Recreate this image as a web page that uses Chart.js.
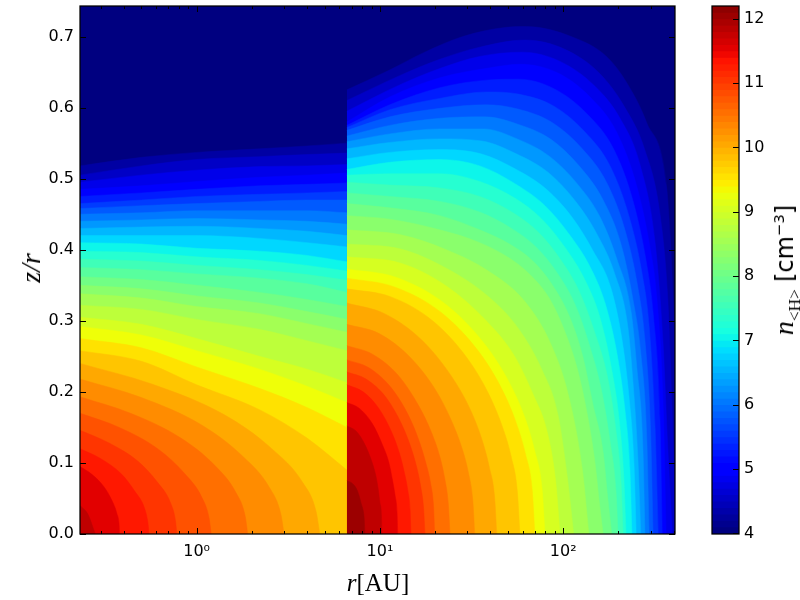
<!DOCTYPE html>
<html>
<head>
<meta charset="utf-8">
<script src="https://cdn.jsdelivr.net/npm/chart.js@4"></script>
<style>
    body { margin: 0; background: #fff; }
    #wrap { position: relative; width: 800px; height: 600px; overflow: hidden; }
    canvas { position: absolute; top: 0; }
    #main { left: 0; }
    #bar { left: 700px; }
    .lab { position: absolute; white-space: nowrap; color: #000; transform: translate(-50%, -50%); font-family: "Liberation Serif", serif; }
    .rot { transform: translate(-50%, -50%) rotate(-90deg); }
    .lab sub, .lab sup { line-height: 0; font-size: 62%; }
    .sans { font-family: "DejaVu Sans", sans-serif; font-size: 24px; }
</style>
</head>
<body>
<div id="wrap">
    <canvas id="main" width="800" height="600"></canvas>
    <canvas id="bar" width="100" height="600"></canvas>
    <div class="lab" style="left:378px;top:583px;font-size:25px"><i>r</i>[AU]</div>
    <div class="lab rot" style="left:31px;top:268px;font-size:28px"><i>z/r</i></div>
    <div class="lab rot" style="left:784px;top:270px;font-size:28px"><i>n</i><sub>&lt;H&gt;</sub> <span class="sans">[cm<sup>−3</sup>]</span></div>
</div>
<script>
// axis limits and ticks
const rMin = 0.231, rMax = 407, zMax = 0.743;
const rTicks = [0.3, 0.4, 0.5, 0.6, 0.7, 0.8, 0.9, 1, 2, 3, 4, 5, 6, 7, 8, 9, 10, 20, 30, 40, 50, 60, 70, 80, 90, 100, 200, 300, 400];
const rMajor = [1, 10, 100];
const rLabels = ['10⁰', '10¹', '10²'];
const zTicks = [0, 0.1, 0.2, 0.3, 0.4, 0.5, 0.6, 0.7];
const cbMin = 3.99, cbMax = 12.2;
const cbTicks = [4, 5, 6, 7, 8, 9, 10, 11, 12];
const cbLevels = [3.99, 4.1, 4.2, 4.3, 4.4, 4.5, 4.6, 4.7, 4.8, 4.9, 5, 5.1, 5.2, 5.3, 5.4, 5.5, 5.6, 5.7, 5.8, 5.9, 6, 6.1, 6.2, 6.3, 6.4, 6.5, 6.6, 6.7, 6.8, 6.9, 7, 7.1, 7.2, 7.3, 7.4, 7.5, 7.6, 7.7, 7.8, 7.9, 8, 8.1, 8.2, 8.3, 8.4, 8.5, 8.6, 8.7, 8.8, 8.9, 9, 9.1, 9.2, 9.3, 9.4, 9.5, 9.6, 9.7, 9.8, 9.9, 10, 10.1, 10.2, 10.3, 10.4, 10.5, 10.6, 10.7, 10.8, 10.9, 11, 11.1, 11.2, 11.3, 11.4, 11.5, 11.6, 11.7, 11.8, 11.9, 12, 12.1];

// contour levels of log n
const levels = [4.25, 4.5, 4.75, 5, 5.25, 5.5, 5.75, 6, 6.25, 6.5, 6.75, 7, 7.25, 7.5, 7.75, 8, 8.25, 8.5, 8.75, 9, 9.25, 9.5, 9.75, 10, 10.25, 10.5, 10.75, 11, 11.25, 11.5, 11.75, 12];

// inner region (r < 6.6 AU): z/r of each level at these radii, levels 4.25 to 9.75
const innerR = [0.231, 0.5, 1, 2.2, 4, 6.6];
const innerZ = [
    [.518, .530, .537, .542, .546, .550],
    [.505, .518, .527, .531, .534, .536],
    [.495, .505, .512, .517, .518, .520],
    [.485, .490, .496, .502, .505, .508],
    [.475, .480, .485, .490, .492, .494],
    [.465, .470, .475, .478, .480, .482],
    [.458, .462, .465, .468, .470, .470],
    [.450, .452, .455, .455, .455, .452],
    [.440, .442, .444, .442, .440, .436],
    [.430, .432, .433, .430, .426, .420],
    [.420, .420, .420, .416, .410, .404],
    [.410, .408, .402, .398, .392, .383],
    [.398, .396, .390, .385, .378, .370],
    [.387, .384, .378, .372, .365, .357],
    [.375, .372, .366, .360, .352, .340],
    [.362, .358, .350, .340, .330, .320],
    [.350, .345, .335, .325, .313, .302],
    [.338, .332, .320, .310, .296, .284],
    [.322, .316, .302, .288, .272, .258],
    [.305, .295, .275, .250, .232, .213],
    [.292, .280, .258, .232, .208, .185],
    [.275, .262, .235, .205, .178, .150],
    [.258, .243, .210, .175, .135, .090],
];
// inner region, levels 10 to 11.75 close onto the midplane
const innerArcs = [
    [[.231, .240], [.57, .211], [1.41, .168], [2.57, .120], [3.8, .072], [4.49, .031], [4.7, 0]],
    [[.231, .218], [.50, .192], [1.07, .153], [1.79, .109], [2.5, .065], [2.88, .028], [3.0, 0]],
    [[.231, .193], [.435, .170], [.82, .135], [1.25, .097], [1.64, .058], [1.84, .025], [1.9, 0]],
    [[.231, .170], [.378, .150], [.62, .119], [.86, .085], [1.07, .051], [1.17, .022], [1.2, 0]],
    [[.231, .146], [.333, .128], [.48, .102], [.61, .073], [.72, .044], [.766, .019], [.78, 0]],
    [[.231, .120], [.30, .106], [.39, .084], [.46, .060], [.52, .036], [.542, .016], [.55, 0]],
    [[.231, .095], [.268, .084], [.311, .067], [.344, .048], [.367, .029], [.378, .012], [.38, 0]],
    [[.231, .040], [.255, .028], [.28, 0]],
];
// outer region (r > 6.6 AU): one list of [r, z/r] for each level
const outer = [
    [[6.6, .625], [11.3, .653], [17.2, .677], [28.3, .700], [49, .713], [63, .714], [113, .699], [172, .672], [222, .635], [285, .579], [366, .489], [384, .414], [407, .273]],
    [[6.6, .610], [12.8, .645], [21.2, .668], [35, .685], [61.8, .695], [102, .682], [158, .648], [217, .600], [279, .540], [337, .450], [372, .330], [392, .180], [407, .050]],
    [[6.6, .595], [12.8, .632], [21.2, .655], [35, .672], [59.5, .678], [96, .665], [149, .630], [204, .585], [262, .520], [317, .410], [350, .270], [372, .120], [394, 0]],
    [[6.6, .580], [11.3, .615], [21.2, .642], [39.8, .656], [58, .661], [93, .649], [140, .615], [196, .565], [252, .489], [297, .404], [324, .332], [352, .170], [364, 0]],
    [[6.6, .575], [11.3, .604], [21.2, .628], [39.3, .639], [57, .640], [90, .626], [135, .591], [189, .541], [240, .469], [283, .385], [309, .312], [337, .160], [347, 0]],
    [[6.6, .572], [11.3, .597], [21.2, .613], [38.3, .622], [57, .619], [89, .602], [131, .566], [180, .518], [228, .448], [269, .367], [294, .293], [317, .150], [330, 0]],
    [[6.6, .568], [11.3, .587], [21.2, .599], [37.8, .604], [56.6, .598], [87, .579], [127, .542], [173, .494], [217, .428], [255, .348], [279, .273], [300, .140], [309, 0]],
    [[6.6, .560], [11.3, .575], [21.2, .585], [37.4, .587], [56, .577], [86, .555], [123, .517], [165, .470], [207, .407], [240, .330], [265, .254], [286, .130], [294, 0]],
    [[6.6, .552], [11.3, .563], [21.2, .570], [36.8, .570], [56, .556], [83.5, .532], [119, .493], [158, .447], [196, .387], [235, .311], [252, .234], [272, .120], [279, 0]],
    [[6.6, .542], [11.3, .551], [21.2, .556], [36, .553], [55.4, .535], [82.5, .509], [116, .469], [152, .423], [191, .366], [225, .292], [240, .214], [255, .110], [265, 0]],
    [[6.6, .528], [11.3, .537], [21.2, .541], [35.5, .535], [54.5, .514], [81, .485], [113, .444], [145, .399], [182, .346], [209, .274], [228, .195], [243, .100], [250, 0]],
    [[6.6, .513], [11.3, .523], [21.2, .527], [35, .518], [54.5, .493], [79.5, .462], [109, .420], [140, .376], [169, .325], [196, .255], [217, .175], [231, .090], [237, 0]],
    [[6.6, .505], [11.3, .507], [21.2, .507], [35, .496], [54.9, .472], [76.5, .443], [103, .402], [131, .358], [158, .306], [182, .237], [202, .160], [214, .080], [220, 0]],
    [[6.6, .495], [11.3, .491], [21.2, .487], [35, .475], [54, .451], [73.6, .424], [98, .384], [123, .340], [147, .287], [175, .219], [194, .145], [207, .070], [212, 0]],
    [[6.6, .480], [11.3, .475], [21.2, .468], [35, .453], [52.2, .430], [71, .404], [93.5, .366], [116, .323], [138, .268], [162, .201], [180, .130], [194, .060], [199, 0]],
    [[6.6, .465], [11.3, .459], [21.2, .448], [35, .428], [51.7, .407], [68.3, .384], [88.5, .348], [109, .304], [128, .249], [145, .183], [165, .115], [175, .050], [184, 0]],
    [[6.6, .448], [11.3, .443], [21.2, .428], [35, .410], [51, .388], [65.8, .365], [84.7, .330], [102, .285], [120, .230], [136, .165], [149, .100], [158, .040], [165, 0]],
    [[6.6, .428], [13, .421], [23, .400], [39, .370], [61.8, .327], [86, .266], [107, .194], [127, .091], [138, 0]],
    [[6.6, .408], [13, .401], [23, .374], [38.7, .335], [57, .289], [76.5, .231], [93.5, .168], [105, .082], [114, 0]],
    [[6.6, .390], [13, .381], [23, .349], [38, .300], [54, .251], [68.3, .197], [82, .142], [91, .073], [96, 0]],
    [[6.6, .373], [12.3, .361], [22.9, .323], [37.6, .266], [50.8, .213], [61.9, .163], [70, .116], [76.6, .064], [79.5, 0]],
    [[6.6, .360], [11.9, .348], [21.5, .312], [34.5, .257], [45.8, .206], [55.3, .157], [62.3, .112], [67.7, .062], [70, 0]],
    [[6.6, .345], [11.4, .334], [19.6, .299], [30.2, .246], [39.2, .197], [46.7, .150], [52.1, .108], [56.2, .059], [58, 0]],
    [[6.6, .325], [10.6, .310], [16.9, .273], [24.7, .221], [31, .176], [36, .133], [39.5, .094], [42.2, .052], [43.4, 0]],
    [[6.6, .295], [9.9, .282], [14.7, .248], [20.3, .201], [24.6, .159], [28, .121], [30.4, .086], [32.1, .047], [32.9, 0]],
    [[6.6, .265], [9.1, .253], [12.6, .223], [16.3, .180], [19.1, .143], [21.2, .109], [22.6, .077], [23.6, .042], [24.1, 0]],
    [[6.6, .245], [8.7, .234], [11.5, .206], [14.3, .167], [16.3, .132], [17.8, .100], [18.9, .071], [19.6, .039], [19.9, 0]],
    [[6.6, .228], [8.4, .218], [10.8, .192], [13.1, .155], [14.7, .123], [15.9, .093], [16.7, .066], [17.3, .036], [17.6, 0]],
    [[6.6, .210], [8.1, .200], [9.9, .176], [11.6, .143], [12.8, .113], [13.6, .086], [14.2, .061], [14.6, .034], [14.75, 0]],
    [[6.6, .185], [7.7, .177], [9.1, .155], [10.3, .126], [11.2, .100], [11.7, .076], [12.1, .054], [12.4, .030], [12.5, 0]],
    [[6.6, .152], [7.4, .145], [8.2, .128], [9, .103], [9.5, .082], [9.8, .062], [10, .044], [10.2, .024], [10.24, 0]],
    [[6.6, .075], [7, .072], [7.4, .065], [7.7, .054], [7.9, .043], [8.1, .033], [8.2, .023], [8.24, .013], [8.27, 0]],
];

// matplotlib jet
function ramp(t, stops) {
    for (let i = 1; i < stops.length; i++) {
        if (t <= stops[i][0]) {
            const a = stops[i - 1], b = stops[i];
            return a[1] + (b[1] - a[1]) * (t - a[0]) / (b[0] - a[0]);
        }
    }
    return stops[stops.length - 1][1];
}
function jet(n) {
    const t = Math.min(1, Math.max(0, (n - 4) / 8.2));
    const r = ramp(t, [[0, 0], [.35, 0], [.66, 1], [.89, 1], [1, .5]]);
    const g = ramp(t, [[0, 0], [.125, 0], [.375, 1], [.64, 1], [.91, 0], [1, 0]]);
    const b = ramp(t, [[0, .5], [.11, 1], [.34, 1], [.65, 0], [1, 0]]);
    return `rgb(${Math.round(r * 255)},${Math.round(g * 255)},${Math.round(b * 255)})`;
}

// frame and inward ticks, on every side for the main plot
const axisFrame = {
    id: 'axisFrame',
    afterDraw(chart, args, opts) {
        const { ctx, chartArea: a, scales } = chart;
        ctx.save();
        ctx.strokeStyle = '#000';
        ctx.lineWidth = 1;
        ctx.beginPath();
        if (opts.colorbar) {
            cbTicks.forEach(v => {
                const y = Math.round(scales.y.getPixelForValue(v)) + 0.5;
                ctx.moveTo(a.right, y);
                ctx.lineTo(a.right - 6, y);
            });
        } else {
            rTicks.forEach(v => {
                const x = Math.round(scales.x.getPixelForValue(v)) + 0.5;
                const len = rMajor.includes(v) ? 6 : 3;
                ctx.moveTo(x, a.bottom);
                ctx.lineTo(x, a.bottom - len);
                ctx.moveTo(x, a.top);
                ctx.lineTo(x, a.top + len);
            });
            zTicks.forEach(v => {
                const y = Math.round(scales.y.getPixelForValue(v)) + 0.5;
                ctx.moveTo(a.left, y);
                ctx.lineTo(a.left + 6, y);
                ctx.moveTo(a.right, y);
                ctx.lineTo(a.right - 6, y);
            });
        }
        ctx.stroke();
        ctx.lineWidth = 1.25;
        ctx.strokeRect(a.left, a.top, a.right - a.left, a.bottom - a.top);
        ctx.restore();
    },
};

Chart.defaults.font.family = '"DejaVu Sans", sans-serif';
Chart.defaults.font.size = 16;
Chart.defaults.color = '#000';
Chart.defaults.animation = false;

function toPoints(list) {
    return list.map(p => ({ x: p[0], y: p[1] }));
}
function contourSet(points, level) {
    return {
        data: toPoints(points),
        fill: 'origin',
        backgroundColor: jet(level),
        borderColor: jet(level),
        borderWidth: 0.5,
        pointRadius: 0,
        cubicInterpolationMode: 'monotone',
    };
}

const inner = innerZ.map(row => row.map((z, i) => [innerR[i], z])).concat(innerArcs);

// lowest level has to paint first, and chart.js paints the last dataset first
const contourData = [];
levels.forEach((level, i) => {
    contourData.unshift(contourSet(inner[i] || [], level));
    contourData.unshift(contourSet(outer[i], level));
});
contourData.push(contourSet([[rMin, zMax], [rMax, zMax]], 4));

// tick labels should not push the plot area inward
function fitHeight(s, h) {
    s.height = h;
    s.paddingLeft = 0;
    s.paddingRight = 0;
}
function fitWidth(s, w) {
    s.width = w;
    s.paddingTop = 0;
    s.paddingBottom = 0;
}

new Chart(document.getElementById('main').getContext('2d'), {
    type: 'line',
    data: { datasets: contourData },
    plugins: [axisFrame],
    options: {
        responsive: false,
        layout: { autoPadding: false, padding: { left: 0, top: 6, right: 125, bottom: 0 } },
        plugins: {
            legend: { display: false },
            tooltip: { enabled: false },
            axisFrame: { colorbar: false },
        },
        scales: {
            x: {
                type: 'logarithmic',
                min: rMin,
                max: rMax,
                grid: { display: false, drawTicks: false },
                border: { display: false },
                afterBuildTicks: s => { s.ticks = rTicks.map(v => ({ value: v })); },
                afterFit: s => fitHeight(s, 66),
                ticks: {
                    autoSkip: false,
                    maxRotation: 0,
                    padding: 8,
                    callback: v => (rMajor.includes(v) ? rLabels[rMajor.indexOf(v)] : ''),
                },
            },
            y: {
                min: 0,
                max: zMax,
                grid: { display: false, drawTicks: false },
                border: { display: false },
                afterBuildTicks: s => { s.ticks = zTicks.map(v => ({ value: v })); },
                afterFit: s => fitWidth(s, 80),
                ticks: { padding: 6, callback: v => v.toFixed(1) },
            },
        },
    },
});

// colorbar, each band runs up to the top so no seams show
const barSets = cbLevels.map((lo, i) => ({
    data: [[lo, cbMax]],
    backgroundColor: jet(i === 0 ? 4 : lo),
    barPercentage: 1,
    categoryPercentage: 1,
    grouped: false,
    borderWidth: 0,
})).reverse();

new Chart(document.getElementById('bar').getContext('2d'), {
    type: 'bar',
    data: { labels: ['n'], datasets: barSets },
    plugins: [axisFrame],
    options: {
        responsive: false,
        layout: { autoPadding: false, padding: { left: 12, top: 6, right: 0, bottom: 66 } },
        plugins: {
            legend: { display: false },
            tooltip: { enabled: false },
            axisFrame: { colorbar: true },
        },
        scales: {
            x: { display: false },
            y: {
                position: 'right',
                min: cbMin,
                max: cbMax,
                grid: { display: false, drawTicks: false },
                border: { display: false },
                afterBuildTicks: s => { s.ticks = cbTicks.map(v => ({ value: v })); },
                afterFit: s => fitWidth(s, 61),
                ticks: { padding: 5 },
            },
        },
    },
});
</script>
</body>
</html>
